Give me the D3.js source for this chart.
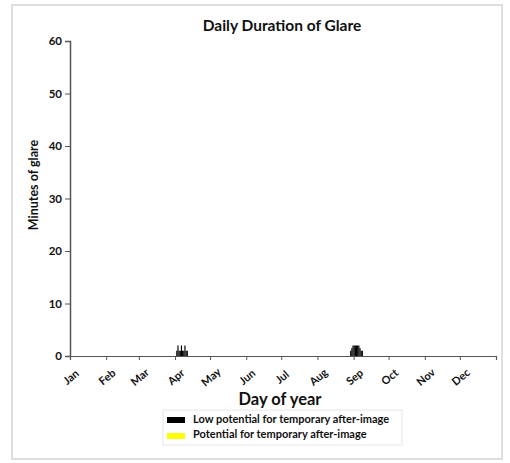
<!DOCTYPE html>
<html>
<head>
<meta charset="utf-8">
<script src="https://cdn.jsdelivr.net/npm/d3@7"></script>
<style>
  body { margin: 0; background: #fff; }
  svg { display: block; font-family: Lato, sans-serif; }
</style>
</head>
<body>
<svg id="chart" width="510" height="463"></svg>
<script>
const monthLabels = ["Jan","Feb","Mar","Apr","May","Jun","Jul","Aug","Sep","Oct","Nov","Dec"];
const monthStartDays = [0,31,59,90,120,151,181,212,243,273,304,334];
const yTicks = [0,10,20,30,40,50,60];
const lowDays = [91,92,93,94,95,96,97,98,99,100, 240,241,242,243,244,245,246,247,248,249,250];
const lowMinutes = [1,2,1,1,2,1,1,2,1,1, 1,1.5,2,2,2,2,2,2,1.5,1,1];
const potentialDays = [];
const potentialMinutes = [];
const legendLabels = ["Low potential for temporary after-image","Potential for temporary after-image"];
const legendColors = ["#000000","#ffff00"];

const FONT = "Lato, sans-serif";
const svg = d3.select("#chart");

// frame
svg.append("rect").attr("x", 12).attr("y", 5).attr("width", 490).attr("height", 454)
  .attr("fill", "#fff").attr("stroke", "#d4d4d4").attr("stroke-width", 1.5);

const x = d3.scaleLinear().domain([0, 365]).range([70, 496]);
const y = d3.scaleLinear().domain([0, 60]).range([356, 41]);
const bw = x(1) - x(0);

// title
svg.append("text").attr("x", 282).attr("y", 31).attr("text-anchor", "middle")
  .attr("font-size", 15.5).attr("font-weight", "bold").attr("fill", "#111")
  .text("Daily Duration of Glare");

// y axis
const yAxis = svg.append("g").attr("transform", "translate(70,0)")
  .call(d3.axisLeft(y).tickValues(yTicks).tickSize(5).tickPadding(3));
yAxis.select(".domain").attr("stroke", "#555").attr("stroke-width", 1.5);
yAxis.selectAll(".tick line").attr("stroke", "#555");
yAxis.selectAll(".tick text").attr("font-size", 11.5).attr("font-weight", "bold")
  .attr("fill", "#111").attr("font-family", FONT);

// x axis
const xAxis = svg.append("g").attr("transform", "translate(0,356)")
  .call(d3.axisBottom(x).tickValues(monthStartDays).tickSize(4)
    .tickFormat((d, i) => monthLabels[i]));
xAxis.select(".domain").attr("stroke", "#555").attr("stroke-width", 1.2);
xAxis.selectAll(".tick line").attr("stroke", "#555");
xAxis.selectAll(".tick text")
  .attr("font-size", 11).attr("font-weight", "bold").attr("fill", "#111")
  .attr("font-family", FONT)
  .attr("text-anchor", "middle").attr("dy", null).attr("y", null)
  .attr("transform", "translate(3,24) rotate(-40)");

// bars
svg.append("g").selectAll("rect.low").data(lowDays).join("rect")
  .attr("class", "low")
  .attr("x", d => x(d))
  .attr("width", bw)
  .attr("y", (d, i) => y(lowMinutes[i]))
  .attr("height", (d, i) => y(0) - y(lowMinutes[i]))
  .attr("fill", legendColors[0]);
svg.append("g").selectAll("rect.pot").data(potentialDays).join("rect")
  .attr("class", "pot")
  .attr("x", d => x(d))
  .attr("width", bw)
  .attr("y", (d, i) => y(potentialMinutes[i]))
  .attr("height", (d, i) => y(0) - y(potentialMinutes[i]))
  .attr("fill", legendColors[1]);

// axis labels
svg.append("text").attr("x", 280).attr("y", 405).attr("text-anchor", "middle")
  .attr("font-size", 16.5).attr("font-weight", "bold").attr("fill", "#111")
  .text("Day of year");
svg.append("text").attr("transform", "translate(38,185) rotate(-90)")
  .attr("text-anchor", "middle")
  .attr("font-size", 12.5).attr("font-weight", "bold").attr("fill", "#111")
  .text("Minutes of glare");

// legend
const lg = svg.append("g");
lg.append("rect").attr("x", 163).attr("y", 410).attr("width", 239).attr("height", 35)
  .attr("fill", "#fff").attr("stroke", "#e6e6e6");
legendLabels.forEach((lab, i) => {
  lg.append("rect").attr("x", 167).attr("y", 417 + i * 16).attr("width", 18).attr("height", 6)
    .attr("fill", legendColors[i]);
  lg.append("text").attr("x", 193).attr("y", 423 + i * 15)
    .attr("font-size", 11).attr("font-weight", "bold").attr("fill", "#111")
    .text(lab);
});
</script>
</body>
</html>
